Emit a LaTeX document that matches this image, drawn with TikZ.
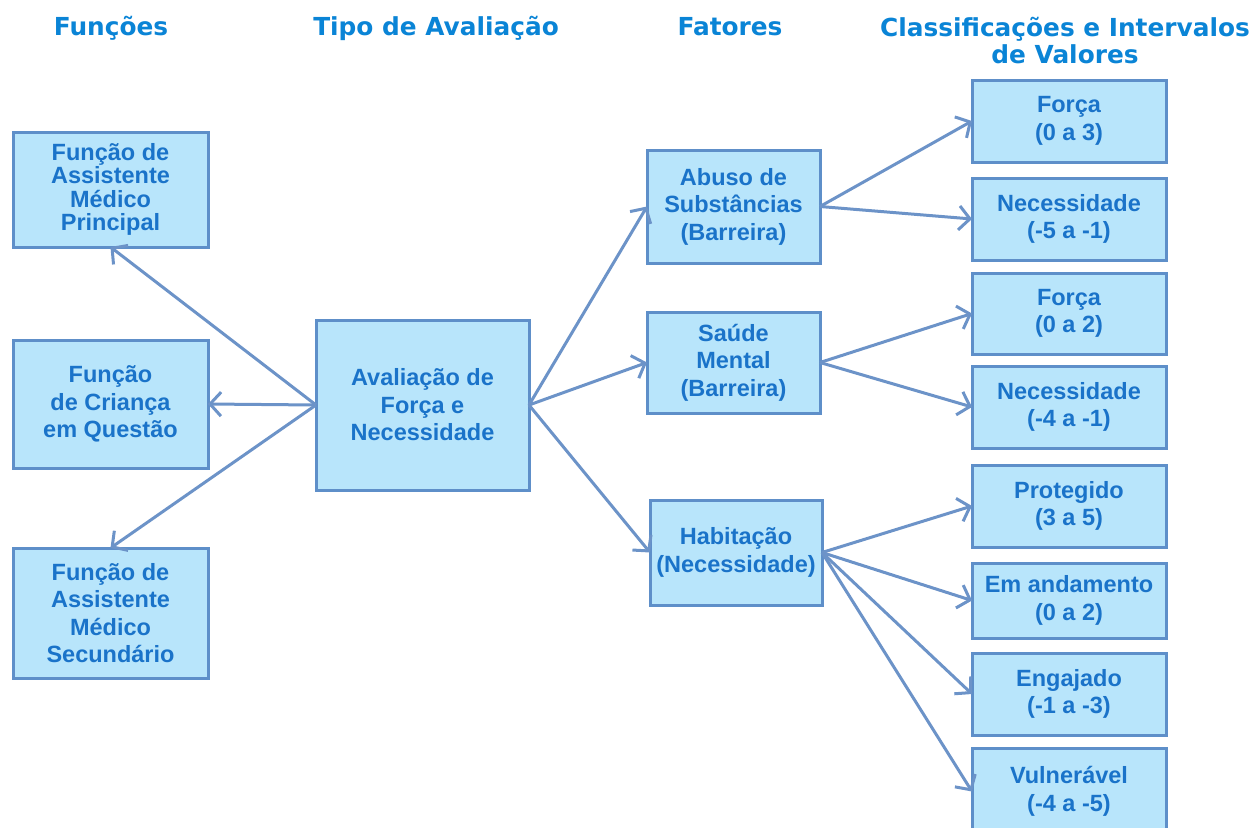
\documentclass[tikz,border=0pt]{standalone}
\usepackage{fontspec}
\setmainfont{Liberation Sans}
\newfontfamily\headfont{DejaVu Sans}
\usetikzlibrary{arrows.meta}
\definecolor{boxfill}{HTML}{B8E5FB}
\definecolor{boxline}{HTML}{5E8FC9}
\definecolor{linkcol}{HTML}{6C93C8}
\definecolor{boxtext}{HTML}{1A73C9}
\definecolor{headtext}{HTML}{0A84D6}

\begin{document}
\begin{tikzpicture}
[x=1pt,y=-1pt,%
  box/.style={shape=rectangle,draw=boxline,fill=boxfill,line width=3pt,
    text=boxtext,align=center,inner sep=0pt,outer sep=0pt,
    font=\fontsize{23.5}{27.5}\selectfont\bfseries},%
  head/.style={anchor=base,text=headtext,align=center,
    font=\fontsize{24.8}{27}\selectfont\headfont\bfseries},%
  link/.style={draw=linkcol,line width=3pt,-{Straight Barb[length=11pt,width=24pt]}}]
\useasboundingbox (0,0) rectangle (1255,827);
\clip (0,0) rectangle (1255,827);
% column titles
\node[head] (hfunc) at (111,35) {Funções};
\node[head] (htipo) at (436,35) {Tipo de Avaliação};
\node[head] (hfat) at (730,35) {Fatores};
\node[head] (hclass) at (1065,63) {Classificações e Intervalos\\de Valores};
% funcoes
\node[box,minimum width=195,minimum height=115,
  font=\fontsize{23.5}{23.5}\selectfont\bfseries] (funcA) at (110.5,189.5)
  {Função de\\Assistente\\Médico\\Principal};
\node[box,minimum width=195,minimum height=128] (funcB) at (110.5,404)
  {Função\\de Criança\\em Questão};
\node[box,minimum width=195,minimum height=130] (funcC) at (110.5,613)
  {Função de\\Assistente\\Médico\\Secundário};
% avaliacao
\node[box,minimum width=213,minimum height=170] (aval) at (422.5,405)
  {Avaliação de\\Força e\\Necessidade};
% fatores
\node[box,minimum width=173,minimum height=113] (abuso) at (733.5,206.5)
  {Abuso de\\Substâncias\\(Barreira)};
\node[box,minimum width=173,minimum height=101] (saude) at (733.5,362.5)
  {Saúde\\Mental\\(Barreira)};
\node[box,minimum width=172,minimum height=105] (habit) at (736,552.5)
  {Habitação\\(Necessidade)};
% classificacoes
\node[box,minimum width=194,minimum height=82] (forcaA) at (1069,121)
  {Força\\(0 a 3)};
\node[box,minimum width=194,minimum height=82] (necA) at (1069,219)
  {Necessidade\\(-5 a -1)};
\node[box,minimum width=194,minimum height=81] (forcaB) at (1069,313.5)
  {Força\\(0 a 2)};
\node[box,minimum width=194,minimum height=82] (necB) at (1069,407)
  {Necessidade\\(-4 a -1)};
\node[box,minimum width=194,minimum height=82] (prot) at (1069,506)
  {Protegido\\(3 a 5)};
\node[box,minimum width=194,minimum height=75] (anda) at (1069,600.5)
  {Em andamento\\(0 a 2)};
\node[box,minimum width=194,minimum height=82] (engaj) at (1069,694)
  {Engajado\\(-1 a -3)};
\node[box,minimum width=194,minimum height=87] (vuln) at (1069,791.5)
  {Vulnerável\\(-4 a -5)};
% ligacoes
\draw[link] (aval.west) -- (funcA.south);
\draw[link] (aval.west) -- (funcB.east);
\draw[link] (aval.west) -- (funcC.north);
\draw[link] (aval.east) -- (abuso.west);
\draw[link] (aval.east) -- (saude.west);
\draw[link] (aval.east) -- (habit.west);
\draw[link] (abuso.east) -- (forcaA.west);
\draw[link] (abuso.east) -- (necA.west);
\draw[link] (saude.east) -- (forcaB.west);
\draw[link] (saude.east) -- (necB.west);
\draw[link] (habit.east) -- (prot.west);
\draw[link] (habit.east) -- (anda.west);
\draw[link] (habit.east) -- (engaj.west);
\draw[link] (habit.east) -- (vuln.west);
\end{tikzpicture}
\end{document}
